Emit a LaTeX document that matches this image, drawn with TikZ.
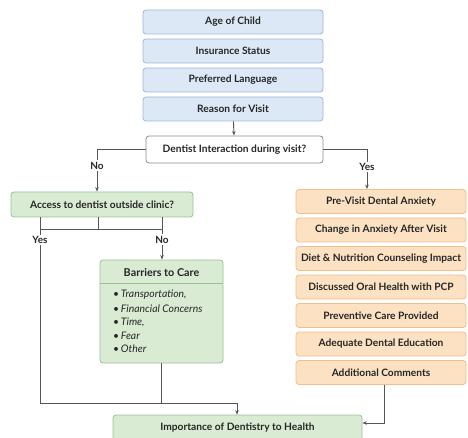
\documentclass[tikz,border=0pt]{standalone}
\usepackage{fontspec}
\setmainfont{Lato}
\usetikzlibrary{arrows.meta}
\definecolor{bluefill}{HTML}{DCE8F5}
\definecolor{blueline}{HTML}{9DB7D8}
\definecolor{greenfill}{HTML}{DAEBD4}
\definecolor{greenline}{HTML}{98C193}
\definecolor{orfill}{HTML}{FCE1C2}
\definecolor{orline}{HTML}{F0BE8A}
\definecolor{wire}{HTML}{555555}
\tikzset{
  box/.style={draw, rounded corners=3pt, line width=0.8pt, font=\bfseries\fontsize{10.2}{12}\selectfont, text=black!85, inner sep=0pt, align=center},
  bluebox/.style={box, fill=bluefill, draw=blueline, minimum width=180pt, minimum height=24pt},
  orbox/.style={box, fill=orfill, draw=orline, minimum width=170pt, minimum height=24pt},
  greenbox/.style={box, fill=greenfill, draw=greenline},
  qbox/.style={box, fill=white, draw=black!45, minimum width=177pt, minimum height=27pt},
  wireline/.style={draw=wire, line width=0.9pt},
  arr/.style={wireline, -{Stealth[length=4.5pt,width=3.5pt]}},
  lab/.style={fill=white, inner sep=1.5pt, font=\bfseries\fontsize{10}{12}\selectfont, text=black!85},
  item/.style={anchor=west, inner sep=0pt, font=\itshape\fontsize{10.4}{12}\selectfont, text=black!85}
}
\begin{document}
\begin{tikzpicture}[x=1pt,y=-1pt]
\useasboundingbox (0,0) rectangle (468,438);
% top blue stack
\node[bluebox] (age) at (233,22) {Age of Child};
\node[bluebox] (ins) at (233,51) {Insurance Status};
\node[bluebox] (lang) at (233,80) {Preferred Language};
\node[bluebox] (reason) at (233,109) {Reason for Visit};
% question
\node[qbox] (dent) at (234.5,149.5) {Dentist Interaction during visit?};
% left branch
\node[greenbox, minimum width=182pt, minimum height=25pt] (access) at (102,204.5) {Access to dentist outside clinic?};
% barriers box
\node[greenbox, minimum width=123pt, minimum height=103pt] (bar) at (161.5,311.5) {};
\node[inner sep=0pt, font=\bfseries\fontsize{10.8}{12}\selectfont, text=black!85] (bartitle) at (161.5,272.5) {Barriers to Care};
\coordinate (sepL) at (100,283);
\coordinate (sepR) at (223,283);
\draw[draw=greenline, line width=0.6pt] (sepL) -- (sepR);
\node[item] (b1) at (113,294.5) {\textbullet\,Transportation,};
\node[item] (b2) at (113,308.5) {\textbullet\,Financial Concerns};
\node[item] (b3) at (113,322) {\textbullet\,Time,};
\node[item] (b4) at (113,335.5) {\textbullet\,Fear};
\node[item] (b5) at (113,349) {\textbullet\,Other};
% orange stack
\node[orbox] (o1) at (381,201.5) {Pre-Visit Dental Anxiety};
\node[orbox] (o2) at (381,230) {Change in Anxiety After Visit};
\node[orbox] (o3) at (381,258.5) {Diet \& Nutrition Counseling Impact};
\node[orbox] (o4) at (381,287) {Discussed Oral Health with PCP};
\node[orbox] (o5) at (381,315.5) {Preventive Care Provided};
\node[orbox] (o6) at (381,344) {Adequate Dental Education};
\node[orbox] (o7) at (381,372.5) {Additional Comments};
% bottom
\node[greenbox, minimum width=249pt, minimum height=26pt] (imp) at (237.5,428) {Importance of Dentistry to Health};
% connectors
\draw[arr] (reason) -- (dent);
\coordinate (nocorner) at (97,149.5);
\draw[arr] (dent.west) -- (nocorner) -- (nocorner |- access.north) node[lab, pos=0.38] (nolab) {No};
\coordinate (yescorner) at (367,149.5);
\draw[arr] (dent.east) -- (yescorner) -- (yescorner |- o1.north) node[lab, pos=0.45] (yeslab) {Yes};
% access bracket
\coordinate (aL) at (40,217);
\coordinate (aM) at (98,217);
\coordinate (aR) at (162,217);
\coordinate (hL) at (40,229);
\coordinate (hM) at (98,229);
\coordinate (hR) at (162,229);
\draw[wireline] (aM) -- (hM);
\draw[wireline] (hL) -- (hR);
\coordinate (yb) at (40,403);
\coordinate (barbot) at (161,403);
\coordinate (impin) at (237,403);
\draw[wireline] (aL) -- (yb) node[lab, pos=0.125] (yeslab2) {Yes};
\draw[arr] (aR) -- (aR |- bar.north) node[lab, pos=0.53] (nolab2) {No};
\draw[wireline] (bar.south -| barbot) -- (barbot);
\draw[arr] (yb) -- (impin) -- (impin |- imp.north);
\coordinate (ocol) at (384,423);
\draw[arr] (o7.south -| ocol) -- (ocol) -- (ocol -| imp.east);
\end{tikzpicture}
\end{document}
